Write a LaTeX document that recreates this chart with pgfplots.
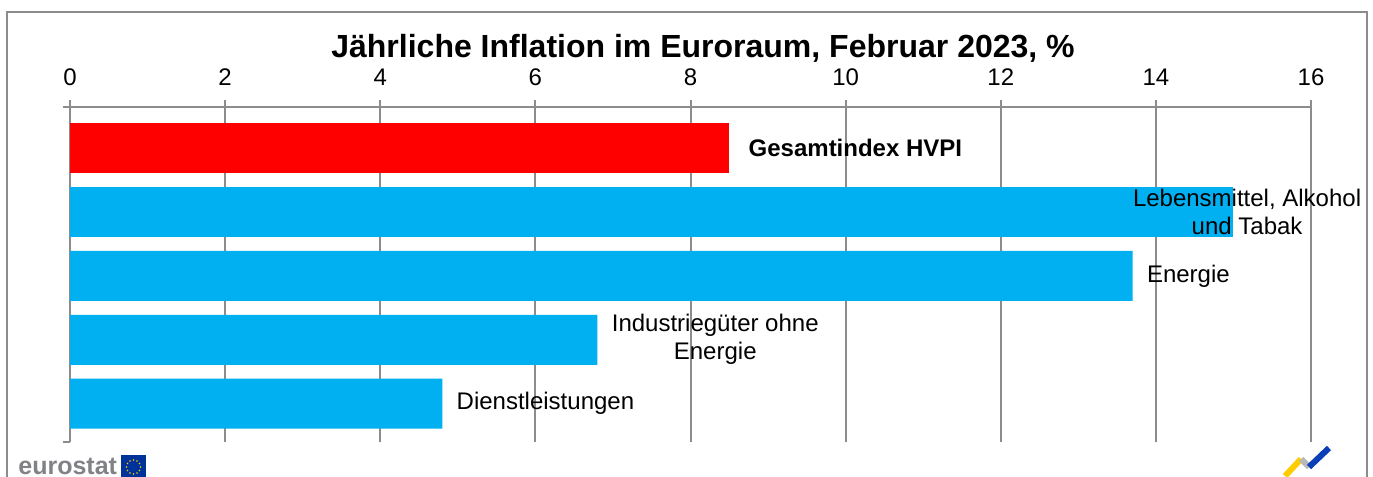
\documentclass[border=0pt]{standalone}
\usepackage{pgfplots}
\pgfplotsset{compat=1.18}
\usepackage{fontspec}
\setmainfont{Liberation Sans}
\definecolor{barblue}{HTML}{00B0F0}
\definecolor{barred}{HTML}{FF0000}
\definecolor{gridgray}{HTML}{8C8C8C}
\definecolor{eugray}{HTML}{808285}
\definecolor{eublue}{HTML}{003399}
\definecolor{euyellow}{HTML}{FFCC00}
\definecolor{logoblue}{HTML}{0A3FB8}
\definecolor{logogray}{HTML}{B8B8B8}
\begin{document}
\begin{tikzpicture}
\begin{scope}[x=0.5bp,y=-0.5bp]
\path[use as bounding box] (0,0) rectangle (1373,477);
\draw[gridgray, line width=1bp] (7,480) -- (7,12) -- (1367,12) -- (1367,480);
\node[font=\bfseries\fontsize{16bp}{19bp}\selectfont, anchor=base, inner sep=0pt] at (703,58) {Jährliche Inflation im Euroraum, Februar 2023, \%};
% eurostat logo
\node[anchor=base west, inner sep=0pt, text=eugray, font=\bfseries\fontsize{12.5bp}{14bp}\selectfont] at (18,475) {eurostat};
\fill[eublue] (121,455) rectangle (146,480);
\foreach \a in {0,30,...,330} \fill[euyellow] ([shift={(\a:7)}]133.5,467) circle (0.9);
% right logo
\draw[line width=3bp, euyellow] (1285,476) -- (1301,459);
\draw[line width=3bp, logogray] (1301,459) -- (1309,467);
\draw[line width=3bp, logoblue] (1309,467) -- (1329,448);
\end{scope}
\begin{axis}[
  at={(35bp,-220.85bp)}, anchor=south west,
  scale only axis, width=620.5bp, height=167.2bp,
  clip=false,
  xbar, bar width=25bp, bar shift=0pt,
  xmin=0, xmax=16, ymin=-0.595, ymax=4.637,
  axis x line*=top, axis y line*=left,
  axis line style={gridgray, line width=1bp, -},
  xmajorgrids, grid style={gridgray, line width=1bp},
  xtick={0,2,...,16},
  tick align=outside, major tick length=3.5bp,
  xtick style={gridgray, line width=1bp},
  ytick={-0.595,4.637}, yticklabels={,}, ytick style={gridgray, line width=1bp},
  /pgf/number format/assume math mode=true,
  xticklabel style={font=\fontsize{12bp}{14bp}\selectfont, inner sep=0pt, anchor=south, yshift=7bp},
  nodes near coords, point meta=explicit symbolic,
]
\addplot[fill=barred, draw=none,
  nodes near coords style={anchor=west, xshift=9.5bp, inner sep=0pt, text=black, font=\bfseries\fontsize{12bp}{14bp}\selectfont}]
  coordinates {(8.5,4) [Gesamtindex HVPI]};
\addplot[fill=barblue, draw=none,
  nodes near coords style={anchor=center, xshift=6.8bp, inner sep=0pt, align=center, text=black, font=\fontsize{12bp}{14bp}\selectfont}]
  coordinates {(15.0,3) [{Lebensmittel, Alkohol\\und Tabak}]};
\addplot[fill=barblue, draw=none,
  nodes near coords style={anchor=west, xshift=7bp, inner sep=0pt, align=center, text=black, font=\fontsize{12bp}{14bp}\selectfont}]
  coordinates {(13.7,2) [Energie] (6.8,1) [{Industriegüter ohne\\Energie}] (4.8,0) [Dienstleistungen]};
\end{axis}
\end{tikzpicture}
\end{document}
